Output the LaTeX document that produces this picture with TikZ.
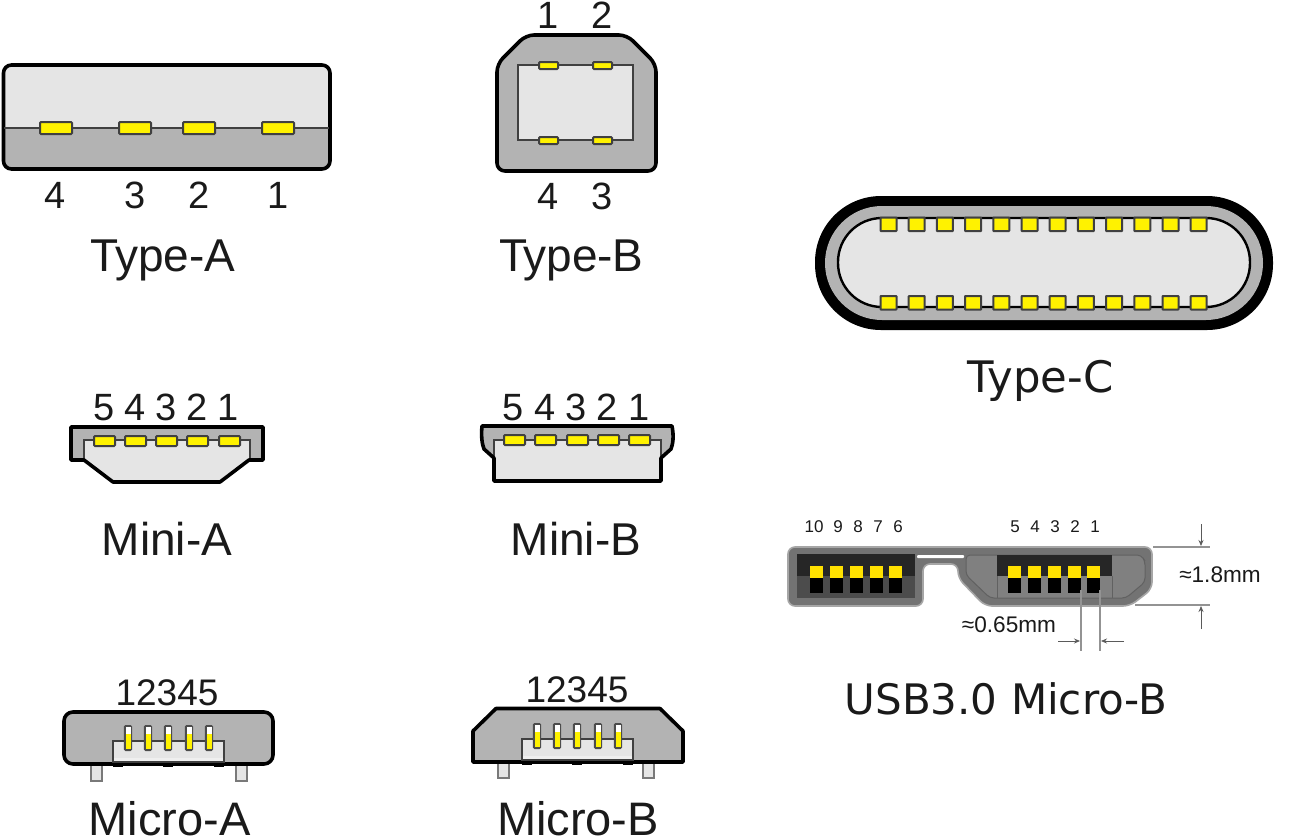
\documentclass[tikz,border=0pt]{standalone}
\usepackage{fontspec}
\setmainfont{Liberation Sans}
\newfontfamily\wide{DejaVu Sans}
\usetikzlibrary{arrows.meta}
\definecolor{shell}{HTML}{B3B3B3}
\definecolor{cavity}{HTML}{E5E5E5}
\definecolor{ink}{HTML}{1A1A1A}
\definecolor{pinedge}{HTML}{404040}
\definecolor{dimgray}{HTML}{808080}
\definecolor{pinyellow}{HTML}{FFE100}
\tikzset{
  body/.style={draw=black,line width=3.6pt,fill=shell,line join=round},
  outline/.style={draw=black,line width=3.6pt,line join=round},
  inner/.style={draw=pinedge,line width=2.2pt,fill=cavity},
  pinbox/.style={draw=pinedge,line width=2pt,fill=yellow,rounded corners=1pt},
  big/.style={font=\fontsize{46}{46}\selectfont,text=ink,anchor=base,inner sep=0pt},
  bigmicro/.style={font=\fontsize{47}{47}\selectfont,text=ink,anchor=base,inner sep=0pt},
  bigwide/.style={font=\wide\fontsize{43.4}{44}\selectfont,text=ink,anchor=base,inner sep=0pt},
  num/.style={font=\fontsize{38}{38}\selectfont,text=ink,anchor=base,inner sep=0pt},
  numrow/.style={font=\fontsize{37}{37}\selectfont,text=ink,anchor=base,inner sep=0pt},
  tiny/.style={font=\fontsize{17}{17}\selectfont,text=ink,anchor=base,inner sep=0pt},
  dimtxt/.style={font=\fontsize{22.6}{23}\selectfont,text=ink,anchor=base,inner sep=0pt},
  dimline/.style={draw=dimgray!85,line width=1.2pt},
  dimarrow/.style={draw=dimgray!70!black,line width=.8pt,-{Stealth[length=6pt,width=5pt]}},
}
\newcommand{\microPins}[2]{%
  \foreach \px in {#2} {
    \fill[black!70,rounded corners=1.5pt] (\px-4.2,#1) rectangle (\px+4.2,#1+26);
    \fill[white] (\px-2.5,#1+2) rectangle (\px+2.5,#1+9);
    \fill[yellow] (\px-2.5,#1+9) rectangle (\px+2.5,#1+24);
  }}
\begin{document}
\begin{tikzpicture}[x=1pt,y=-1pt]
\useasboundingbox (0,0) rectangle (1299,839);
\fill[white] (0,0) rectangle (1299,839);

% Type-A
\fill[cavity,rounded corners=8pt] (3,65) rectangle (330,135);
\fill[shell,rounded corners=8pt] (3,110) rectangle (330,169);
\fill[cavity] (5,100) rectangle (328,128);
\draw[outline,rounded corners=8pt] (3.5,65) rectangle (330,169);
\draw[pinedge,line width=1.6pt] (4,128) -- (329,128);
\foreach \a in {40,119,183,262} \draw[pinbox] (\a,122) rectangle (\a+32,134);
\node[num] (a4) at (55,208) {4};
\node[num] (a3) at (135,208) {3};
\node[num] (a2) at (199,208) {2};
\node[num] (a1) at (278,208) {1};
\node[big] (typea) at (163,271) {T\kern-4pt ype-A};

% Type-B
\draw[body,rounded corners=8pt] (497,64) -- (526,35) -- (627,35) -- (656,64) -- (656,171) -- (497,171) -- cycle;
\draw[inner] (518,65) rectangle (633,140);
\foreach \a in {539,593} {
  \draw[pinbox] (\a,62) rectangle (\a+19,69);
  \draw[pinbox] (\a,137) rectangle (\a+19,144);
}
\node[num] (b1) at (548,28) {1};
\node[num] (b2) at (602,28) {2};
\node[num] (b4) at (548,209) {4};
\node[num] (b3) at (602,209) {3};
\node[big] (typeb) at (571.5,271) {T\kern-4pt ype-B};

% Type-C
\fill[black,rounded corners=66pt] (815,196) rectangle (1273,330);
\fill[shell,rounded corners=57pt] (825,206) rectangle (1263,320);
\draw[fill=cavity,draw=black,line width=2.4pt,rounded corners=44pt] (838,218) rectangle (1250,307);
\foreach \i in {0,...,11} {
  \draw[pinbox,rounded corners=.5pt] (880.5+28.2*\i,217.5) rectangle (896.5+28.2*\i,231);
  \draw[pinbox,rounded corners=.5pt] (880.5+28.2*\i,296) rectangle (896.5+28.2*\i,309.5);
}
\node[bigwide] (typec) at (1040.5,392) {Type-C};

% Mini-A
\fill[shell] (71,427) -- (263,427) -- (263,460) -- (71,460) -- cycle;
\fill[cavity] (84,440) -- (250,440) -- (250,460) -- (220,482) -- (113,482) -- (84,460) -- cycle;
\draw[pinedge,line width=2.2pt] (84,460) -- (84,440) -- (250,440) -- (250,460);
\draw[outline] (71,427) -- (263,427) -- (263,460) -- (249,460) -- (220,482) -- (113,482) -- (84,460) -- (71,460) -- cycle;
\foreach \a in {94,125,156,187,219} \draw[pinbox] (\a,436) rectangle (\a+21,446);
\node[num] (ma5) at (104,420) {5};
\node[num] (ma4) at (135,420) {4};
\node[num] (ma3) at (166,420) {3};
\node[num] (ma2) at (197,420) {2};
\node[num] (ma1) at (228,420) {1};
\node[big] (minia) at (167,555) {Mini-A};

% Mini-B
\fill[shell] (482,426) -- (672,426) .. controls (674,436) and (673,444) .. (671,449) -- (661,458) -- (494,458) -- (484,449) .. controls (482,444) and (481,436) .. (482,426) -- cycle;
\fill[cavity] (494,440) rectangle (661,481);
\draw[pinedge,line width=2.2pt] (494,458) -- (494,440) -- (661,440) -- (661,458);
\draw[outline] (482,426) -- (672,426) .. controls (674,436) and (673,444) .. (671,449) -- (661,458) -- (661,481) -- (494,481) -- (494,458) -- (484,449) .. controls (482,444) and (481,436) .. (482,426) -- cycle;
\foreach \a in {504,535,567,598,629} \draw[pinbox] (\a,435) rectangle (\a+21,445);
\node[num] (mb5) at (513,420) {5};
\node[num] (mb4) at (545,420) {4};
\node[num] (mb3) at (576,420) {3};
\node[num] (mb2) at (607,420) {2};
\node[num] (mb1) at (639,420) {1};
\node[big] (minib) at (576,555) {Mini-B};

% Micro-A
\draw[pinedge!70,line width=1.6pt,fill=cavity] (91,764) rectangle (102,781);
\draw[pinedge!70,line width=1.6pt,fill=cavity] (236,764) rectangle (247,781);
\draw[body,rounded corners=9pt] (64,712) rectangle (273,764);
\draw[inner,line width=1.8pt] (113,741) rectangle (224,762);
\fill[cavity!60!white] (114,758) rectangle (223,761);
\foreach \a in {113,163,214} \fill[black] (\a,763) rectangle (\a+10,767);
\microPins{725}{128,148,168,189,209}
\node[numrow] (mca) at (167,705) {12345};
\node[bigmicro] (microa) at (169.5,835) {Micro-A};

% Micro-B
\draw[pinedge!70,line width=1.6pt,fill=cavity] (498,762) rectangle (509,778);
\draw[pinedge!70,line width=1.6pt,fill=cavity] (643,762) rectangle (654,778);
\draw[body] (473,731) -- (496,708.5) -- (660,708.5) -- (683,731) -- (683,762) -- (473,762) -- cycle;
\draw[inner,line width=1.8pt] (522,739) rectangle (633,760);
\fill[cavity!60!white] (523,756) rectangle (632,759);
\foreach \a in {522,572,623} \fill[black] (\a,761) rectangle (\a+10,765);
\microPins{723}{537,557,577,598,618}
\node[numrow] (mcb) at (577,702) {12345};
\node[bigmicro] (microb) at (578,835) {Micro-B};

% USB3.0 Micro-B
\draw[draw=gray!70,line width=1.6pt,fill=black!55,rounded corners=7pt]
  (788,547) -- (1152,547) -- (1152,589) -- (1130,606) -- (985,606) -- (958,578) -- (958,564) -- (923,564) -- (923,606) -- (788,606) -- cycle;
\fill[white,rounded corners=1pt] (917,555) rectangle (964,558);
\fill[black!85] (797,554) rectangle (915,576);
\fill[black!70] (797,576) rectangle (915,598);
\draw[draw=black!62,line width=1pt,fill=dimgray,rounded corners=4pt] (966,555) -- (1141,555) -- (1145,561) -- (1145,582) -- (1126,598) -- (990,598) -- (966,575) -- cycle;
\fill[black!85] (997,554.5) rectangle (1112,576);
\draw[black!62,line width=1pt] (997,576) -- (997,598);
\draw[black!62,line width=1pt] (1112,576) -- (1112,598);
\foreach \a in {810,830,850,870,889,1008,1028,1048,1068,1087} {
  \fill[black] (\a-.5,578) rectangle (\a+13,593);
  \fill[pinyellow] (\a,566) rectangle (\a+12.5,578);
}
\foreach \t/\tx in {10/814,9/838,8/858,7/878,6/898,5/1015,4/1035,3/1055,2/1075,1/1095}
  \node[tiny] (u\t) at (\tx,532) {\t};
\draw[dimline] (1153,547) -- (1210,547);
\draw[dimline] (1135,605) -- (1210,605);
\draw[dimline] (1081,590) -- (1081,651);
\draw[dimline] (1100,590) -- (1100,651);
\coordinate (ut1) at (1201,524); \coordinate (ut2) at (1201,546);
\coordinate (ub1) at (1201,629); \coordinate (ub2) at (1201,606);
\coordinate (wl1) at (1058,641); \coordinate (wl2) at (1080,641);
\coordinate (wr1) at (1124,641); \coordinate (wr2) at (1101,641);
\draw[dimarrow] (ut1) -- (ut2);
\draw[dimarrow] (ub1) -- (ub2);
\draw[dimarrow] (wl1) -- (wl2);
\draw[dimarrow] (wr1) -- (wr2);
\node[dimtxt] (d18) at (1220,582) {≈1.8mm};
\node[dimtxt] (d65) at (1009,632) {≈0.65mm};
\node[bigwide,font=\wide\fontsize{42}{42}\selectfont] (usb3) at (1006,714) {USB3.0 Micro-B};
\end{tikzpicture}
\end{document}
